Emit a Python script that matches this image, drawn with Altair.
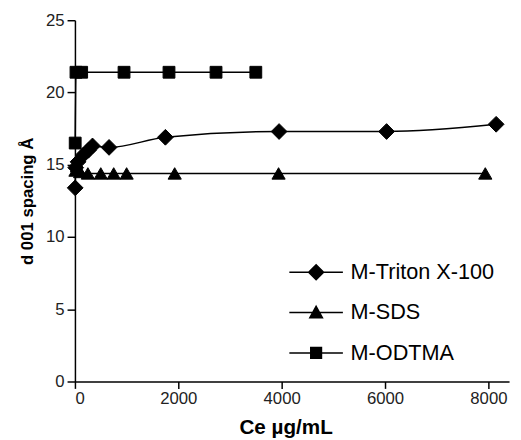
import altair as alt
import pandas as pd

# ---- data ----
series_names = ["M-Triton X-100", "M-SDS", "M-ODTMA"]

triton_x = [5, 15, 60, 170, 260, 340, 660, 1750, 3950, 6030, 8150]
triton_y = [13.4, 14.8, 15.2, 15.7, 16.0, 16.3, 16.2, 16.9, 17.3, 17.3, 17.8]

sds_x = [10, 40, 100, 250, 500, 750, 1000, 1930, 3940, 7940]
sds_y = [14.6, 14.9, 14.5, 14.4, 14.4, 14.4, 14.4, 14.4, 14.4, 14.4]

odtma_x = [5, 20, 130, 950, 1820, 2730, 3500]
odtma_y = [16.5, 21.4, 21.4, 21.4, 21.4, 21.4, 21.4]

x_ticks = [0, 2000, 4000, 6000, 8000]
y_ticks = [0, 5, 10, 15, 20, 25]

rows = []
for name, xs, ys in zip(series_names, [triton_x, sds_x, odtma_x], [triton_y, sds_y, odtma_y]):
    for i, (xv, yv) in enumerate(zip(xs, ys)):
        rows.append({"series": name, "x": xv, "y": yv, "idx": i})
df = pd.DataFrame(rows)

FONT = "Liberation Sans"

# legend symbol = short horizontal line + marker
bar = "M-3.4,0H3.4"
legend_expr = (
    "datum.value == 'M-Triton X-100' ? '" + bar + "M-0.95,0L0,-0.95L0.95,0L0,0.95Z' : "
    "datum.value == 'M-SDS' ? '" + bar + "M0,-0.8L0.8,0.65L-0.8,0.65Z' : "
    "'" + bar + "M-0.68,-0.68H0.68V0.68H-0.68Z'"
)

x_enc = alt.X(
    "x:Q",
    scale=alt.Scale(domain=[0, 8400], nice=False, zero=False),
    axis=alt.Axis(values=x_ticks, format="d", title="Ce µg/mL", grid=False, tickSize=7,
                  labelPadding=2, titlePadding=11, titleFontSize=21, titleX=214),
)
y_enc = alt.Y(
    "y:Q",
    scale=alt.Scale(domain=[0, 25], nice=False),
    axis=alt.Axis(values=y_ticks, title="d 001 spacing Å", grid=False, tickSize=8,
                  labelPadding=3, titleFontSize=17, titleX=-39),
)

base = alt.Chart(df)

lines = base.mark_line(strokeWidth=1.5, interpolate="monotone").encode(
    x=x_enc,
    y=y_enc,
    order="idx:Q",
    color=alt.Color(
        "series:N",
        scale=alt.Scale(domain=series_names, range=["black", "black", "black"]),
        legend=alt.Legend(
            title=None,
            orient="none",
            legendX=234,
            legendY=245,
            padding=0,
            rowPadding=19,
            labelFont=FONT,
            labelFontSize=22,
            labelColor="black",
            labelOffset=24,
            symbolSize=256,
            symbolType=alt.ExprRef(legend_expr),
            symbolFillColor="black",
            symbolStrokeColor="black",
            symbolStrokeWidth=1.5,
            symbolOpacity=1,
        ),
    ),
)

marker_shapes = ["diamond", "triangle-up", "square"]
marker_sizes = [256, 180, 144]

point_layers = []
for name, shp, sz in zip(series_names, marker_shapes, marker_sizes):
    point_layers.append(
        base.transform_filter(alt.datum.series == name)
        .mark_point(filled=True, opacity=1, shape=shp, size=sz, color="black",
                    stroke="black", strokeWidth=1)
        .encode(x=x_enc, y=y_enc)
    )

chart = (
    alt.layer(lines, *point_layers)
    .properties(
        width=441,
        height=367,
        autosize=alt.AutoSizeParams(type="none"),
        padding={"left": 68, "top": 9, "right": 4, "bottom": 56},
        background="white",
    )
    .configure_axis(
        domainColor="black",
        domainWidth=1.5,
        tickColor="black",
        tickWidth=1.5,
        labelFont=FONT,
        labelFontSize=17,
        labelColor="#222222",
        titleFont=FONT,
        titleFontWeight="bold",
        titleColor="black",
    )
    .configure_view(strokeWidth=0)
)

chart.save("out.html", embed_options={"renderer": "svg", "actions": False})
